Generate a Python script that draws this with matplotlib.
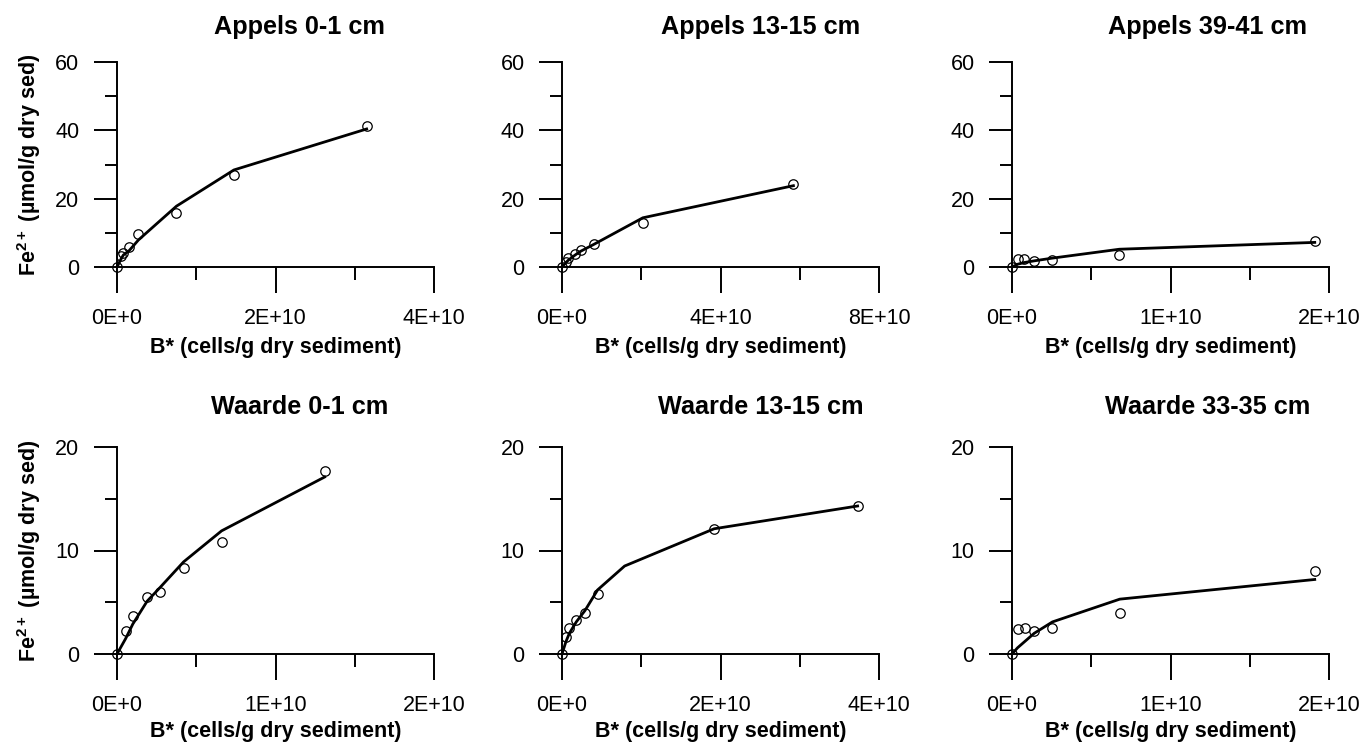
import numpy as np
import matplotlib
matplotlib.use("agg")
import matplotlib.pyplot as plt
from matplotlib.ticker import FixedLocator, FixedFormatter

plt.rcParams['font.family'] = ['Liberation Sans', 'DejaVu Sans']
plt.rcParams['mathtext.fontset'] = 'custom'
plt.rcParams['mathtext.rm'] = 'Liberation Sans:bold'
plt.rcParams['mathtext.bf'] = 'Liberation Sans:bold'

#------------------------------------------------------
#                   Data (B* in units of 1E+10 cells/g)
#------------------------------------------------------
appels_0_1_b     = [0, 0.05, 0.08, 0.15, 0.27, 0.75, 1.475, 3.15]
appels_0_1_fe    = [0, 3.3, 4.0, 5.9, 9.6, 15.7, 26.9, 41.4]
appels_0_1_fit_b = [0, 0.05, 0.08, 0.15, 0.27, 0.75, 1.475, 3.15]
appels_0_1_fit   = [0, 2.3, 3.5, 4.7, 7.9, 17.8, 28.4, 40.4]

appels_13_15_b     = [0, 0.1, 0.16, 0.33, 0.47, 0.8, 2.04, 5.84]
appels_13_15_fe    = [0, 1.6, 2.7, 3.8, 5.0, 6.7, 13.0, 24.2]
appels_13_15_fit_b = [0, 0.1, 0.16, 0.33, 0.47, 0.8, 2.04, 5.84]
appels_13_15_fit   = [0, 1.3, 2.0, 3.5, 4.6, 6.6, 14.4, 23.8]

appels_39_41_b     = [0, 0.035, 0.076, 0.14, 0.255, 0.677, 1.91]
appels_39_41_fe    = [0, 2.3, 2.3, 1.8, 2.1, 3.5, 7.7]
appels_39_41_fit_b = [0, 0.035, 0.076, 0.14, 0.255, 0.677, 1.91]
appels_39_41_fit   = [0, 0.8, 1.3, 1.8, 2.6, 5.2, 7.2]

waarde_0_1_b     = [0, 0.055, 0.10, 0.19, 0.27, 0.42, 0.66, 1.31]
waarde_0_1_fe    = [0, 2.25, 3.7, 5.5, 6.0, 8.3, 10.8, 17.7]
waarde_0_1_fit_b = [0, 0.055, 0.10, 0.19, 0.27, 0.42, 0.66, 1.31]
waarde_0_1_fit   = [0, 1.5, 2.9, 5.1, 6.4, 8.9, 11.9, 17.1]

waarde_13_15_b     = [0, 0.05, 0.093, 0.18, 0.29, 0.45, 1.92, 3.73]
waarde_13_15_fe    = [0, 1.6, 2.5, 3.3, 4.0, 5.8, 12.1, 14.3]
waarde_13_15_fit_b = [0, 0.05, 0.093, 0.18, 0.29, 0.45, 0.79, 1.92, 3.73]
waarde_13_15_fit   = [0, 1.2, 2.0, 3.1, 4.2, 6.2, 8.5, 12.1, 14.3]

waarde_33_35_b     = [0, 0.035, 0.08, 0.14, 0.255, 0.68, 1.91]
waarde_33_35_fe    = [0, 2.4, 2.55, 2.2, 2.55, 4.0, 8.0]
waarde_33_35_fit_b = [0, 0.035, 0.08, 0.14, 0.255, 0.68, 1.91]
waarde_33_35_fit   = [0, 0.6, 1.2, 2.0, 3.1, 5.3, 7.2]

titles = ["Appels 0-1 cm", "Appels 13-15 cm", "Appels 39-41 cm",
          "Waarde 0-1 cm", "Waarde 13-15 cm", "Waarde 33-35 cm"]

# x axis: max, major ticks, minor ticks, labels (units of 1E+10)
xmax        = [4, 8, 2, 2, 4, 2]
xmajor      = [[0, 2, 4], [0, 4, 8], [0, 1, 2], [0, 1, 2], [0, 2, 4], [0, 1, 2]]
xminor      = [[1, 3], [2, 6], [0.5, 1.5], [0.5, 1.5], [1, 3], [0.5, 1.5]]
xticklabels = [["0E+0", "2E+10", "4E+10"], ["0E+0", "4E+10", "8E+10"],
               ["0E+0", "1E+10", "2E+10"], ["0E+0", "1E+10", "2E+10"],
               ["0E+0", "2E+10", "4E+10"], ["0E+0", "1E+10", "2E+10"]]

ytop_row    = [0, 20, 40, 60]
ytop_minor  = [10, 30, 50]
ybot_row    = [0, 10, 20]
ybot_minor  = [5, 15]

obs_b = [appels_0_1_b, appels_13_15_b, appels_39_41_b, waarde_0_1_b, waarde_13_15_b, waarde_33_35_b]
obs_fe = [appels_0_1_fe, appels_13_15_fe, appels_39_41_fe, waarde_0_1_fe, waarde_13_15_fe, waarde_33_35_fe]
fit_b = [appels_0_1_fit_b, appels_13_15_fit_b, appels_39_41_fit_b, waarde_0_1_fit_b, waarde_13_15_fit_b, waarde_33_35_fit_b]
fit_fe = [appels_0_1_fit, appels_13_15_fit, appels_39_41_fit, waarde_0_1_fit, waarde_13_15_fit, waarde_33_35_fit]

#------------------------------------------------------
#                   Figure
#------------------------------------------------------
W, H = 1364, 745
fig = plt.figure(figsize=(W / 100, H / 100), dpi=100)

lefts = [117, 562, 1012]
title_dx = [24.5, 40, 37]        # title centre offset from axes centre, px
ax_w = 317
rows = [(62, 267), (447, 654)]   # (top px, zero px)

for i in range(6):
    r, c = divmod(i, 3)
    top, zero = rows[r]
    ax_h = zero - top
    ax = fig.add_axes([lefts[c] / W, 1 - zero / H, ax_w / W, ax_h / H])

    ax.plot(np.array(fit_b[i]) * 1e10, fit_fe[i], c='k', lw=2.0, clip_on=False, zorder=3)
    ax.plot(np.array(obs_b[i]) * 1e10, obs_fe[i], ls='none', marker='o', ms=6.8,
            mfc='none', mec='k', mew=0.9, clip_on=False, zorder=4)

    ax.set_xlim(0, xmax[i] * 1e10)
    ax.xaxis.set_major_locator(FixedLocator([v * 1e10 for v in xmajor[i]]))
    ax.xaxis.set_minor_locator(FixedLocator([v * 1e10 for v in xminor[i]]))
    ax.xaxis.set_major_formatter(FixedFormatter(xticklabels[i]))

    if r == 0:
        ax.set_ylim(0, 60)
        ax.yaxis.set_major_locator(FixedLocator(ytop_row))
        ax.yaxis.set_minor_locator(FixedLocator(ytop_minor))
    else:
        ax.set_ylim(0, 20)
        ax.yaxis.set_major_locator(FixedLocator(ybot_row))
        ax.yaxis.set_minor_locator(FixedLocator(ybot_minor))

    for s in ['top', 'right']:
        ax.spines[s].set_visible(False)
    for s in ['left', 'bottom']:
        ax.spines[s].set_linewidth(1.4)

    ax.tick_params(axis='x', which='major', direction='out', length=18.7, width=1.4,
                   pad=11, labelsize=15.5)
    ax.tick_params(axis='x', which='minor', direction='out', length=9.4, width=1.4)
    ax.tick_params(axis='y', which='major', direction='out', length=16.5, width=1.4,
                   pad=10.5, labelsize=15.5)
    ax.tick_params(axis='y', which='minor', direction='out', length=8.6, width=1.4)

    ax.set_xlabel("B* (cells/g dry sediment)", fontsize=15.5, fontweight='bold')
    ax.xaxis.label.set_va('center')
    ax.xaxis.set_label_coords(0.5, -(80 if r == 0 else 78) / ax_h)

    if c == 0:
        ax.set_ylabel(r"$\mathbf{Fe^{2+}}$ (µmol/g dry sed)", fontsize=15.5, fontweight='bold')
        ax.yaxis.set_label_coords(-74 / ax_w, 0.5)

    title_off = 35 if r == 0 else 39.5
    ax.text(0.5 + title_dx[c] / ax_w, 1 + title_off / ax_h, titles[i], transform=ax.transAxes,
            ha='center', va='center', fontsize=18.2, fontweight='bold')

fig.savefig("out.png", dpi=100)
plt.close(fig)
